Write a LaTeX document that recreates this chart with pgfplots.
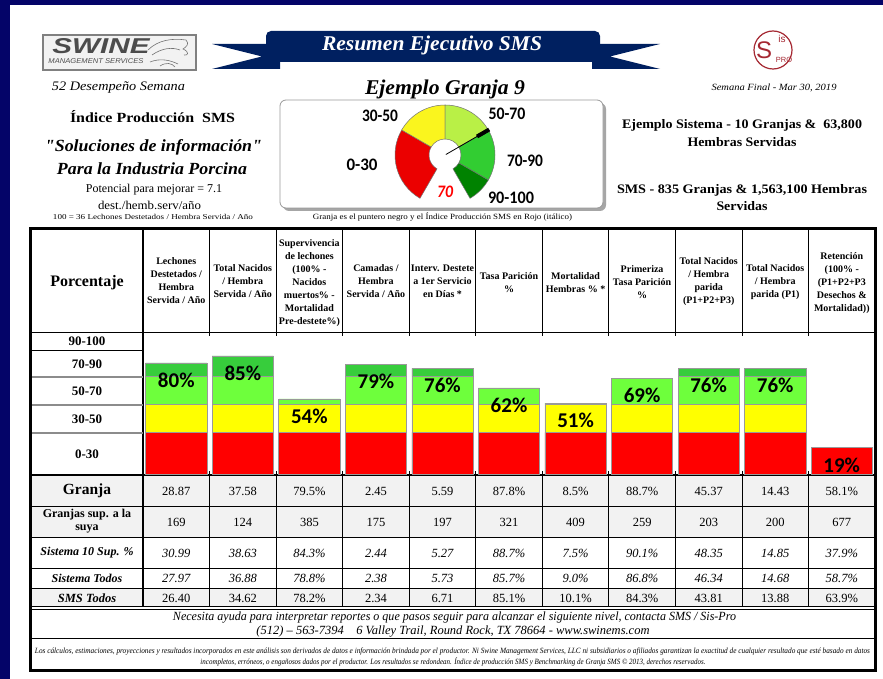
\documentclass[border=0pt]{standalone}
\usepackage{fontspec}
\setmainfont{Liberation Serif}
\newfontfamily\rawserif{Liberation Serif}
\newfontfamily\calib{Carlito}
\newfontfamily\arial{Liberation Sans}
\usepackage{graphicx}
\usepackage{pgfplots}
\pgfplotsset{compat=1.18}
\definecolor{navy}{RGB}{4,4,104}
\definecolor{ribbon}{RGB}{0,32,96}
\definecolor{cred}{RGB}{255,0,0}
\definecolor{cyel}{RGB}{255,255,0}
\definecolor{clg}{RGB}{110,255,60}
\definecolor{cdg}{RGB}{55,205,60}
\definecolor{gred}{RGB}{235,0,0}
\definecolor{gyel}{RGB}{250,245,30}
\definecolor{glg}{RGB}{185,240,70}
\definecolor{gmg}{RGB}{50,205,50}
\definecolor{gdg}{RGB}{0,130,0}
\definecolor{rowgray}{RGB}{242,242,242}
\definecolor{sisred}{RGB}{165,40,50}
\newcommand\fs[2]{\fontsize{#1}{#2}\selectfont}
\newcommand\fitw[2]{\resizebox{#1}{\height}{#2}}
\newcommand\sq{{\rawserif\bfseries\itshape "}}
\begin{document}
\begin{tikzpicture}[x=1pt,y=-1pt,inner sep=0pt,outer sep=0pt]
% background
\fill[navy] (0,0) rectangle (883,679);
\fill[white] (10,5) rectangle (883,679);

% SWINE logo
\fill[black!5] (43,35) rectangle (196,70);
\draw[black!50,line width=1.2] (43,35) rectangle (196,70);
\node[text=black!70,font=\arial\bfseries\itshape\fs{22}{22}] at (101,46.5) {\resizebox{97pt}{15pt}{SWINE}};
\node[text=black!70,font=\arial\itshape\fs{7}{7}] at (96,61) {\resizebox{95pt}{\height}{MANAGEMENT SERVICES}};
\draw[black!55,line width=0.6] (148,50) .. controls (158,40) and (172,38) .. (186,40) .. controls (190,44) and (186,47) .. (183,49) .. controls (190,52) and (188,56) .. (184,55);
\draw[black!55,line width=0.6] (152,55) .. controls (162,48) and (172,47) .. (180,50);
\draw[black!55,line width=0.6] (150,62) .. controls (160,58) and (170,60) .. (178,64) (160,66) .. controls (166,62) and (172,63) .. (175,67);

% ribbon
\fill[ribbon] (212,44) -- (280,44) -- (280,69) -- (212,69) -- (262,56.5) -- cycle;
\fill[ribbon] (660,44) -- (592,44) -- (592,69) -- (660,69) -- (610,56.5) -- cycle;
\fill[ribbon,rounded corners=5] (266,31) rectangle (600,62);
\node[text=white,font=\bfseries\itshape\fs{21}{21}] at (432,45) {\fitw{220pt}{Resumen Ejecutivo SMS}};

% left header texts
\node[font=\itshape\fs{13}{13}] at (118.5,88) {\fitw{133pt}{52 Desempeño Semana}};
\node[font=\bfseries\fs{14}{14}] at (152.5,117) {\fitw{165pt}{Índice Producción\ \ SMS}};
\node[font=\bfseries\itshape\fs{17}{17}] at (153.5,147) {\fitw{217pt}{\sq Soluciones de información\sq}};
\node[font=\bfseries\itshape\fs{17}{17}] at (152,169) {\fitw{190pt}{Para la Industria Porcina}};
\node[font=\fs{12}{12}] at (154,190) {\fitw{136pt}{Potencial para mejorar = 7.1}};
\node[font=\fs{12}{12}] at (149.5,205) {\fitw{103pt}{dest./hemb.serv/año}};
\node[font=\fs{7.5}{8}] at (153,217) {\fitw{200pt}{100 = 36 Lechones Destetados / Hembra Servida / Año}};

% center header
\node[font=\bfseries\itshape\fs{21}{21}] at (445,89) {\fitw{160pt}{Ejemplo Granja 9}};
\fill[black!35,rounded corners=6] (283,103) rectangle (606,211);
\draw[black!40,fill=white,rounded corners=6,line width=0.8] (280,100) rectangle (603,208);
\node[font=\fs{8}{8}] at (442.5,217) {\fitw{259pt}{Granja es el puntero negro y el Índice Producción SMS en Rojo (itálico)}};

% gauge
\begin{scope}[shift={(445,155)},yscale=-1]
\foreach \a/\b/\c in {240/150/gred,150/90/gyel,90/30/glg,30/-30/gmg,-30/-60/gdg}{
 \filldraw[fill=\c,draw=black!55,line width=0.5] (\a:16) -- (\a:50) arc[start angle=\a,end angle=\b,radius=50] -- (\b:16) arc[start angle=\b,end angle=\a,radius=16] -- cycle;}
\draw[black,line width=0.8] (30:1) -- (30:38);
\draw[black,line width=4] (30:37) -- (30:51);
\end{scope}
\node at (380,116) {\resizebox{36pt}{11.5pt}{\calib\bfseries 30-50}};
\node at (507,114) {\resizebox{37pt}{11.5pt}{\calib\bfseries 50-70}};
\node at (362,165) {\resizebox{31pt}{11.5pt}{\calib\bfseries 0-30}};
\node at (525,161) {\resizebox{36pt}{11.5pt}{\calib\bfseries 70-90}};
\node at (511,198) {\resizebox{46pt}{11.5pt}{\calib\bfseries 90-100}};
\node[text=red] at (445,192) {\resizebox{16pt}{11.5pt}{\calib\bfseries\itshape 70}};

% right header: Sis-Pro logo
\draw[sisred,line width=1.2] (773,50) circle[radius=19];
\node[text=sisred,font=\arial\fs{24}{24}] at (764,50) {S};
\node[text=sisred,font=\arial\fs{10}{10}] at (782,39) {is};
\node[text=sisred,font=\arial\fs{7.5}{8}] at (784,60) {PRO};
\node[font=\itshape\fs{9.5}{10}] at (774,88) {\fitw{125pt}{Semana Final - Mar 30, 2019}};
\node[font=\bfseries\fs{13}{13}] at (742,125.5) {\fitw{240pt}{Ejemplo Sistema - 10 Granjas \&\ \ 63,800}};
\node[font=\bfseries\fs{13}{13}] at (742,142) {\fitw{109pt}{Hembras Servidas}};
\node[font=\bfseries\fs{13}{13}] at (742,190) {\fitw{250pt}{SMS - 835 Granjas \& 1,563,100 Hembras}};
\node[font=\bfseries\fs{13}{13}] at (742,206) {\fitw{51pt}{Servidas}};

% table backgrounds
\fill[rowgray] (31,475) rectangle (875,537);
\fill[rowgray] (31,588) rectangle (875,607);

% table lines
\foreach \i in {1,...,10}{\pgfmathsetmacro\xx{143+66.55*\i}
 \draw[line width=0.9] (\xx,228) -- (\xx,336);
 \draw[line width=0.9] (\xx,471) -- (\xx,607);}
\draw[line width=1.6] (143,228) -- (143,607);
\draw[line width=0.9] (31,332) -- (875,332);
\draw[line width=0.9] (31,350) -- (143,350);
\draw[black!45,line width=1.8] (31,377) -- (143,377) (31,405) -- (143,405) (31,433) -- (143,433);
\draw[line width=1.5] (31,475) -- (875,475);
\foreach \yy in {506,537,568,588} \draw[line width=0.9] (31,\yy) -- (875,\yy);
\draw[line width=0.9] (31,606.5) -- (875,606.5) (31,609.5) -- (875,609.5);
\draw[line width=1.5] (31,638.5) -- (875,638.5);
\draw[line width=3] (29,228) -- (877,228);
\draw[line width=3] (30.5,227) -- (30.5,671);
\draw[line width=3] (875.5,227) -- (875.5,671);
\draw[line width=2.5] (29,670.5) -- (877,670.5);

% header cells
\node[font=\bfseries\fs{16}{16}] at (87,283) {Porcentaje};
\begin{scope}[every node/.style={align=center,font=\bfseries\fs{10}{13}}]
\node at (176.3,281) {Lechones\\Destetados /\\Hembra\\Servida / Año};
\node at (242.8,281) {Total Nacidos\\/ Hembra\\Servida / Año};
\node at (309.4,283) {Supervivencia\\de lechones\\(100\% -\\Nacidos\\muertos\% -\\Mortalidad\\Pre-destete\%)};
\node at (375.9,281) {Camadas /\\Hembra\\Servida / Año};
\node at (442.5,281) {Interv. Destete\\a 1er Servicio\\en Días *};
\node at (509.0,283) {Tasa Parición\\\%};
\node at (575.6,283) {Mortalidad\\Hembras \% *};
\node at (642.1,282) {Primeriza\\Tasa Parición\\\%};
\node at (708.7,282) {Total Nacidos\\/ Hembra\\parida\\(P1+P2+P3)};
\node at (775.2,282) {Total Nacidos\\/ Hembra\\parida (P1)};
\node at (841.8,283) {Retención\\(100\% -\\(P1+P2+P3\\Desechos \&\\Mortalidad))};
\end{scope}
\begin{scope}[every node/.style={font=\bfseries\fs{13}{13}}]
\node at (87,341) {90-100};
\node at (87,364) {70-90};
\node at (87,391) {50-70};
\node at (87,419) {30-50};
\node at (87,454) {0-30};
\end{scope}

% bars
\begin{axis}[at={(143pt,-474pt)},anchor=south west,scale only axis,width=732pt,height=139pt,
 xmin=0,xmax=11,ymin=0,ymax=100,hide axis,clip=false,ybar stacked,bar width=0.92,bar shift=0pt]
\addplot[fill=cred,draw=black!40,line width=0.6] coordinates {(0.5,30) (1.5,30) (2.5,30) (3.5,30) (4.5,30) (5.5,30) (6.5,30) (7.5,30) (8.5,30) (9.5,30) (10.5,19)};
\addplot[fill=cyel,draw=black!40,line width=0.6] coordinates {(0.5,20) (1.5,20) (2.5,20) (3.5,20) (4.5,20) (5.5,20) (6.5,20) (7.5,20) (8.5,20) (9.5,20) (10.5,0)};
\addplot[fill=clg,draw=black!40,line width=0.6] coordinates {(0.5,20) (1.5,20) (2.5,4) (3.5,20) (4.5,20) (5.5,12) (6.5,1) (7.5,19) (8.5,20) (9.5,20) (10.5,0)};
\addplot[fill=cdg,draw=black!40,line width=0.6] coordinates {(0.5,10) (1.5,15) (2.5,0) (3.5,9) (4.5,6) (5.5,0) (6.5,0) (7.5,0) (8.5,6) (9.5,6) (10.5,0)};
\end{axis}
\begin{axis}[at={(143pt,-474pt)},anchor=south west,scale only axis,width=732pt,height=139pt,
 xmin=0,xmax=11,ymin=0,ymax=100,hide axis,clip=false]
\addplot[only marks,mark=o,mark size=0pt,mark options={draw opacity=0,fill opacity=0},nodes near coords,point meta=explicit symbolic,
 nodes near coords style={anchor=north,yshift=-10pt,font=\calib\bfseries\fs{21}{21},text=black,text opacity=1}]
 coordinates {(0.5,80) [80\%] (1.5,85) [85\%] (2.5,54) [54\%] (3.5,79) [79\%] (4.5,76) [76\%] (5.5,62) [62\%] (6.5,51) [51\%] (7.5,69) [69\%] (8.5,76) [76\%] (9.5,76) [76\%] (10.5,19) [19\%]};
\end{axis}

% data rows
\node[font=\bfseries\fs{15.5}{16}] at (87,491) {Granja};
\node[font=\bfseries\fs{12}{13},align=center] at (87,521) {Granjas sup. a la\\suya};
\node[font=\bfseries\itshape\fs{12}{12}] at (87,553) {Sistema 10 Sup. \%};
\node[font=\bfseries\itshape\fs{12}{12}] at (87,578) {Sistema Todos};
\node[font=\bfseries\itshape\fs{12.5}{12}] at (87,598) {SMS Todos};
\begin{scope}[every node/.style={font=\fs{12.5}{13}}]
\foreach \v [count=\i from 0] in {28.87,37.58,79.5\%,2.45,5.59,87.8\%,8.5\%,88.7\%,45.37,14.43,58.1\%}
 \node at ({176.3+66.55*\i},491) {\v};
\foreach \v [count=\i from 0] in {169,124,385,175,197,321,409,259,203,200,677}
 \node at ({176.3+66.55*\i},522) {\v};
\foreach \v [count=\i from 0] in {30.99,38.63,84.3\%,2.44,5.27,88.7\%,7.5\%,90.1\%,48.35,14.85,37.9\%}
 \node[font=\itshape\fs{12.5}{13}] at ({176.3+66.55*\i},553) {\v};
\foreach \v [count=\i from 0] in {27.97,36.88,78.8\%,2.38,5.73,85.7\%,9.0\%,86.8\%,46.34,14.68,58.7\%}
 \node[font=\itshape\fs{12.5}{13}] at ({176.3+66.55*\i},578) {\v};
\foreach \v [count=\i from 0] in {26.40,34.62,78.2\%,2.34,6.71,85.1\%,10.1\%,84.3\%,43.81,13.88,63.9\%}
 \node at ({176.3+66.55*\i},598) {\v};
\end{scope}

% footer
\node[font=\itshape\fs{12.5}{13}] at (454.5,618) {\fitw{563pt}{Necesita ayuda para interpretar reportes o que pasos seguir para alcanzar el siguiente nivel, contacta SMS / Sis-Pro}};
\node[font=\itshape\fs{12.5}{13}] at (453,632) {\fitw{393pt}{(512) – 563-7394\quad 6 Valley Trail, Round Rock, TX 78664 - www.swinems.com}};
\node[font=\itshape\fs{8}{9}] at (452.5,652) {\fitw{835pt}{Los cálculos, estimaciones, proyecciones y resultados incorporados en este análisis son derivados de datos e información brindada por el productor. Ni Swine Management Services, LLC ni subsidiarios o afiliados garantizan la exactitud de cualquier resultado que esté basado en datos}};
\node[font=\itshape\fs{8}{9}] at (453,661.5) {\fitw{505pt}{incompletos, erróneos, o engañosos dados por el productor. Los resultados se redondean. Índice de producción SMS y Benchmarking de Granja SMS © 2013, derechos reservados.}};
\end{tikzpicture}
\end{document}
